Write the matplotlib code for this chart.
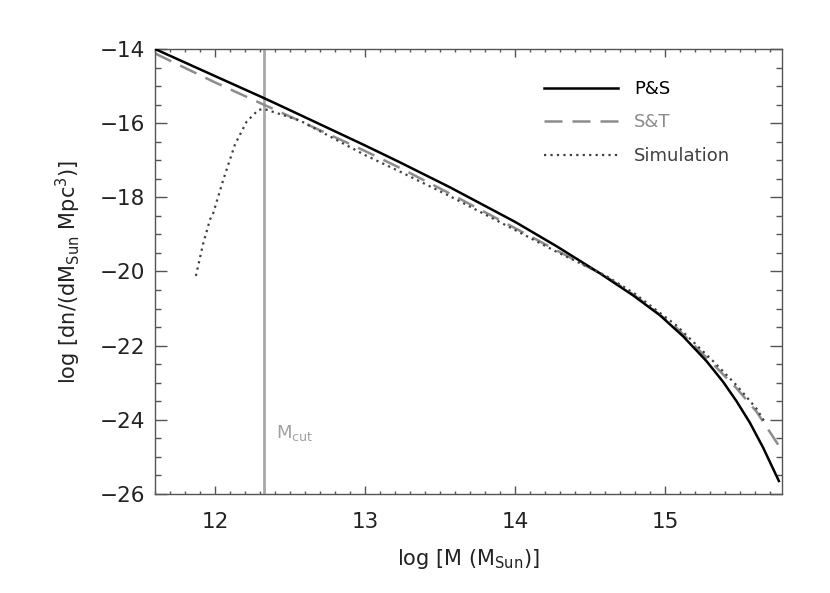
import numpy as np
import matplotlib.pyplot as plt
from matplotlib.ticker import MultipleLocator

# log mass values and log mass function values
ps_logm = [11.6, 12.0, 12.33, 12.5, 13.0, 13.23, 13.567, 14.0, 14.278, 14.567,
           14.79, 14.967, 15.122, 15.278, 15.389, 15.478, 15.567, 15.655, 15.76]
ps_logn = [-14.0, -14.73, -15.33, -15.65, -16.6, -17.05, -17.73, -18.66, -19.32, -20.05,
           -20.65, -21.18, -21.75, -22.42, -22.98, -23.5, -24.08, -24.75, -25.65]

st_logm = [11.6, 12.0, 12.33, 12.5, 13.0, 13.23, 13.567, 14.0, 14.278, 14.6,
           14.8, 15.078, 15.322, 15.478, 15.611, 15.76]
st_logn = [-14.12, -14.9, -15.51, -15.82, -16.75, -17.2, -17.9, -18.83, -19.43, -20.12,
           -20.65, -21.52, -22.5, -23.15, -23.78, -24.7]

sim_logm = [11.873, 11.92, 11.967, 11.989, 12.056, 12.133, 12.211, 12.29, 12.33, 12.567,
            13.0, 13.23, 13.567, 14.0, 14.278, 14.6, 14.8, 15.078, 15.322, 15.478, 15.611, 15.66]
sim_logn = [-20.12, -19.27, -18.6, -18.42, -17.52, -16.58, -15.96, -15.64, -15.62, -15.93,
            -16.86, -17.3, -17.97, -18.88, -19.47, -20.1, -20.6, -21.46, -22.42, -23.07, -23.7, -24.02]

m_cut = 12.327

plt.rcParams['font.family'] = 'DejaVu Sans'
plt.rcParams['mathtext.fontset'] = 'dejavusans'

fig = plt.figure(figsize=(8.3, 5.93), dpi=100)
ax = fig.add_axes([0.1867, 0.167, 0.7553, 0.7504])

ax.plot(ps_logm, ps_logn, color='black', lw=1.8, label='P&S', zorder=3)
ax.plot(st_logm, st_logn, color='#8c8c8c', lw=1.8, dashes=(7.2, 4), label='S&T', zorder=2)
ax.plot(sim_logm, sim_logn, color='#404040', lw=1.6, linestyle=(0, (1, 1.9)), label='Simulation', zorder=4)
ax.axvline(m_cut, color='#a8a8a8', lw=2, zorder=1)
ax.text(m_cut + 0.08, -24.5, r'M$_{\rm cut}$', color='#a0a0a0', fontsize=13, va='baseline')

ax.set_xlim(11.6, 15.78)
ax.set_ylim(-26, -14)
ax.set_xticks([12, 13, 14, 15])
ax.set_yticks(np.arange(-26, -13, 2))
ax.xaxis.set_minor_locator(MultipleLocator(0.1))
ax.yaxis.set_minor_locator(MultipleLocator(0.5))
ax.tick_params(which='both', direction='in', top=True, right=True, color='#555555', width=1,
               labelsize=15.5, labelcolor='#222222')
ax.tick_params(axis='x', which='major', length=5.8, pad=13)
ax.tick_params(axis='x', which='minor', length=2.5)
ax.tick_params(axis='y', which='major', length=8.6, pad=7)
ax.tick_params(axis='y', which='minor', length=4.3)
for s in ax.spines.values():
    s.set_color('#555555')
    s.set_linewidth(1)

ax.set_xlabel(r'log [M (M$_{\rm Sun}$)]', fontsize=15, color='#222222', labelpad=11)
ax.set_ylabel(r'log [dn/(dM$_{\rm Sun}$ Mpc$^3$)]', fontsize=15, color='#222222', labelpad=12)

ax.legend(loc='upper left', bbox_to_anchor=(0.62, 0.93), frameon=False, fontsize=13,
          handlelength=4.1, handletextpad=0.9, labelspacing=0.85, borderpad=0, borderaxespad=0,
          labelcolor=['black', '#8c8c8c', '#404040'])

fig.savefig('out.png', dpi=100)
